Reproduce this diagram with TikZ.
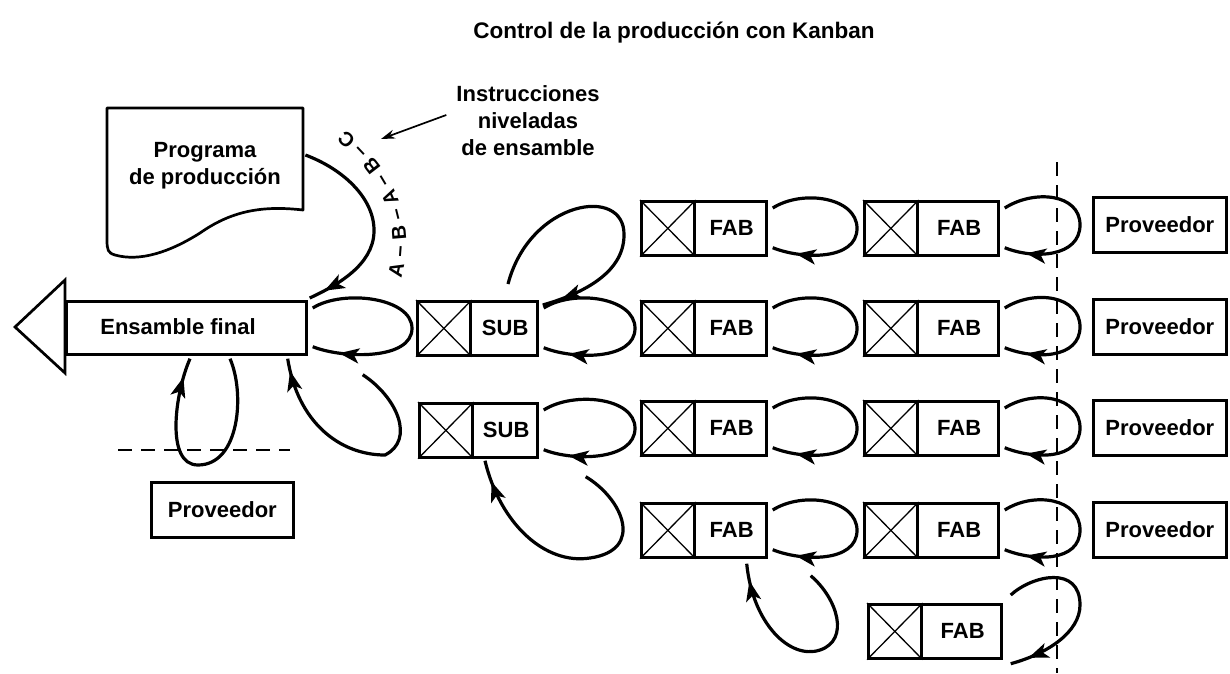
\documentclass[tikz,border=0pt]{standalone}
\usepackage{fontspec}
\setmainfont{Liberation Sans}
\usetikzlibrary{calc,arrows.meta,decorations.markings,decorations.text}
\newcommand\kbx[5]{% name, left x, top y, width, label
  \node[kbox, minimum width=#4] (#1) at (#2,#3) {};
  \node[xsq] (#1x) at (#2,#3) {};
  \draw[xline] (#1x.north west) -- (#1x.south east) (#1x.north east) -- (#1x.south west);
  \node[lbl] (#1t) at ($(#1x.east)!0.5!(#1.east)$) {#5};
}
\newcommand\hlp[3]{% source, target, gap
  \draw[kloop] ($(#1.north east)+(5,8)$) .. controls +(30,-19) and +(0,-31) .. ($(#2.west)+(-#3,0)$)
     .. controls +(0,32) and +(30,12) .. ($(#1.south east)+(5,-9)$);
}
\begin{document}
\begin{tikzpicture}[x=1pt,y=-1pt,
  lbl/.style={font=\fontsize{22}{27}\selectfont\bfseries, inner sep=0pt, align=center},
  kbox/.style={draw, line width=2.7pt, minimum height=54pt, inner sep=0pt, anchor=north west},
  xsq/.style={draw, line width=2.7pt, minimum width=53pt, minimum height=54pt, inner sep=0pt, anchor=north west},
  xline/.style={line width=1.3pt},
  pbox/.style={draw, line width=2.7pt, minimum width=133pt, minimum height=55pt, inner sep=0pt, anchor=north west, font=\fontsize{22}{27}\selectfont\bfseries},
  kloop/.style={line width=3.2pt, decoration={markings, mark=at position #1 with {\arrow{Stealth[length=20pt,width=15pt,inset=5pt]}}}, postaction={decorate}},
  kloop/.default=0.88,
  dline/.style={line width=2.4pt, dash pattern=on 14pt off 9pt}
]
\useasboundingbox (0,0) rectangle (1230,673);

% title
\node[lbl, font=\fontsize{22.5}{27}\selectfont\bfseries] (title) at (674,33) {Control de la producción con Kanban};

% Programa de produccion (document shape)
\node[minimum width=196pt, minimum height=145pt, inner sep=0pt, anchor=north west] (prog) at (107,108) {};
\draw[line width=2.7pt, line join=round] (107,108) -- (303,108) -- (303,210)
  .. controls (260,205) and (230,212) .. (200,233)
  .. controls (170,252) and (140,262) .. (115,255)
  .. controls (108,253) and (107,250) .. (107,240) -- cycle;
\node[lbl] (progt) at (205,166) {Programa\\de producción};

% Ensamble final arrow
\node[draw, line width=2.7pt, minimum width=240pt, minimum height=53pt, inner sep=0pt, anchor=north west] (ens) at (65,300) {};
\draw[line width=2.7pt, line join=miter] (65,280) -- (15,327) -- (65,373) -- cycle;
\node[lbl] (enst) at (178,327) {Ensamble final};

% kanban boxes
\kbx{s2}{416}{300}{120}{SUB}
\kbx{s3}{418}{402}{118}{SUB}
\kbx{f11}{640}{200}{125}{FAB}
\kbx{f21}{640}{300}{125}{FAB}
\kbx{f31}{640}{400}{125}{FAB}
\kbx{f41}{640}{502}{125}{FAB}
\kbx{f12}{863}{200}{134}{FAB}
\kbx{f22}{863}{300}{134}{FAB}
\kbx{f32}{863}{400}{134}{FAB}
\kbx{f42}{863}{502}{134}{FAB}
\kbx{f5}{867}{603}{133}{FAB}

% Proveedor boxes
\node[pbox] (p1) at (1092,196) {Proveedor};
\node[pbox] (p2) at (1092,298) {Proveedor};
\node[pbox] (p3) at (1092,399) {Proveedor};
\node[pbox] (p4) at (1092,501) {Proveedor};
\node[pbox, minimum width=142pt] (p0) at (150,481) {Proveedor};

% dashed lines
\coordinate (dv1) at (1057,162);
\coordinate (dv2) at (1057,673);
\draw[dline] (dv1) -- (dv2);
\coordinate (dh1) at (118,450);
\coordinate (dh2) at (290,450);
\draw[dline] (dh1) -- (dh2);

% horizontal kanban loops
\hlp{ens}{s2}{4}
\hlp{s2}{f21}{5}
\hlp{s3}{f31}{5}
\hlp{f11}{f12}{6}
\hlp{f21}{f22}{6}
\hlp{f31}{f32}{6}
\hlp{f41}{f42}{6}
\hlp{f12}{p1}{12}
\hlp{f22}{p2}{12}
\hlp{f32}{p3}{12}
\hlp{f42}{p4}{12}

% programa -> ensamble
\draw[kloop=0.92] ($(prog.north east)+(2,47)$) .. controls +(40,15) and (375,200) .. (374,232)
  .. controls (373,265) and +(28,-13) .. ($(ens.north east)+(2,-2)$);

% loop below ensamble (proveedor)
\draw[kloop=0.92] ($(ens.south west)+(165,3)$) .. controls +(15,34) and (240,465) .. (198,465)
  .. controls (165,465) and +(-15,34) .. ($(ens.south west)+(125,3)$);

% SUB row3 -> ensamble
\draw[kloop=0.95] ($(ens.south east)+(55,19)$) .. controls +(35,23) and (415,440) .. (385,455)
  .. controls (340,455) and +(10,64) .. ($(ens.south east)+(-20,3)$);

% FAB row1 -> SUB row2 (above)
\draw[kloop=0.93] ($(s2.north west)+(92,-16)$) .. controls +(22,-84) and (625,185) .. (624,235)
  .. controls (624,275) and +(35,-10) .. ($(s2.north east)+(4,5)$);

% FAB row4 -> SUB row3 (below)
\draw[kloop=0.92] ($(s3.south east)+(47,18)$) .. controls +(37,22) and (645,550) .. (590,558)
  .. controls (545,565) and +(15,63) .. ($(s3.south west)+(67,2)$);

% FAB row5 -> FAB row4 col1
\draw[kloop=0.92] ($(f41.south east)+(43,17)$) .. controls +(27,23) and (850,640) .. (820,650)
  .. controls (790,660) and +(6,60) .. ($(f41.south east)+(-21,5)$);

% FAB row5 loop up right
\draw[kloop=0.9] ($(f5.north east)+(8,-8)$) .. controls +(22,-20) and (1080,565) .. (1080,605)
  .. controls (1080,632) and +(37,-10) .. ($(f5.south east)+(8,4)$);

% A-B-A-B-C label along the curve
\path[decorate, decoration={text along path, raise=-7pt,
   text align=center,
   text format delimiters={|}{|},
   text={|\fontsize{20}{24}\selectfont\bfseries|A – B – A – B – C}}]
  (390,290) .. controls (410,236) and (400,180) .. (330,126);

% instructions label
\node[lbl] (instr) at (528,121) {Instrucciones\\niveladas\\de ensamble};
\coordinate (abtip) at (381,139);
\draw[line width=1.7pt, -{Stealth[length=14pt,width=9pt]}] ($(instr.west)+(-10,-6)$) -- (abtip);
\end{tikzpicture}
\end{document}
